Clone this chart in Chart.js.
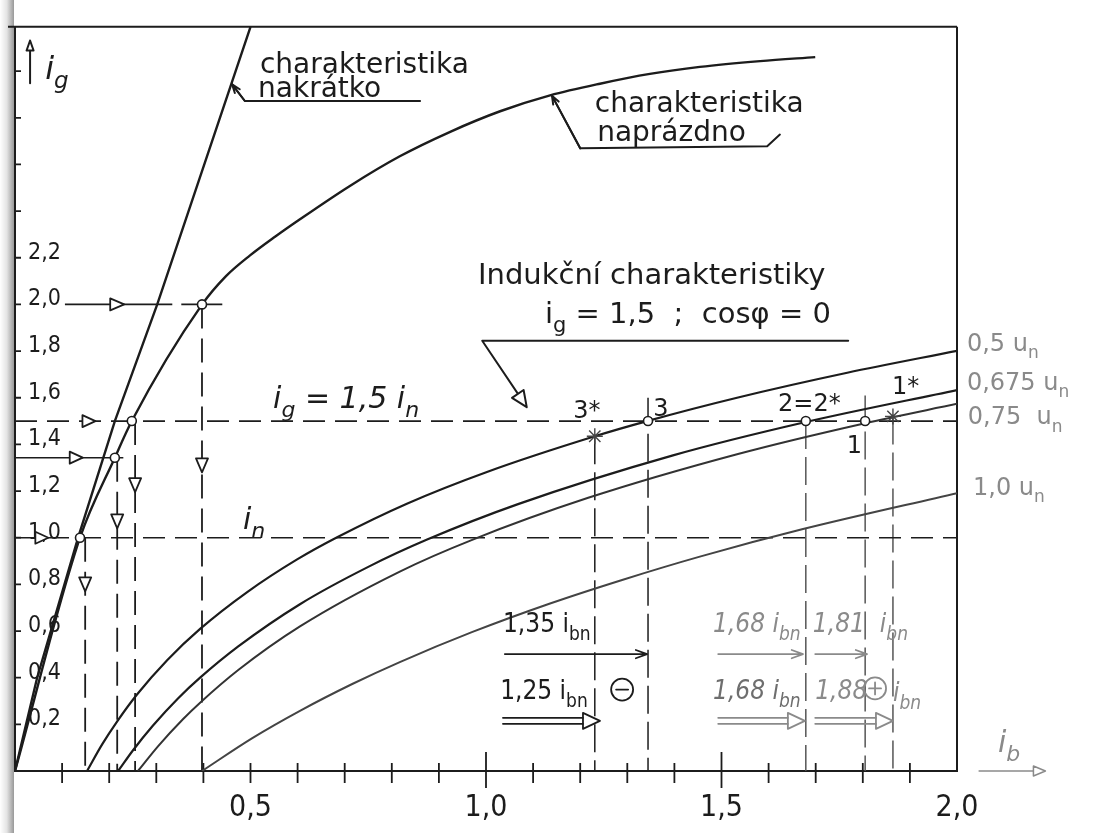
<!DOCTYPE html>
<html>
<head>
<meta charset="utf-8">
<title>Indukční charakteristiky</title>
<script src="https://cdn.jsdelivr.net/npm/chart.js@4.4.1/dist/chart.umd.min.js"></script>
<style>
  html, body { margin: 0; padding: 0; background: #fff; }
  canvas { display: block; }
</style>
</head>
<body>
<canvas id="chart" width="1094" height="833"></canvas>
<script>
const ink = '#1c1c1c';
const pencil = '#8a8a8a';
const FONT = '"DejaVu Sans", sans-serif';
const NARROW = '"DejaVu Sans Condensed", "DejaVu Sans", sans-serif';

// axes (ib horizontal, ig vertical)
const ibTicks = [0.5, 1.0, 1.5, 2.0];
const ibTickLabels = ['0,5', '1,0', '1,5', '2,0'];
const igTicks = [0.2, 0.4, 0.6, 0.8, 1.0, 1.2, 1.4, 1.6, 1.8, 2.0, 2.2];
const igTickLabels = ['0,2', '0,4', '0,6', '0,8', '1,0', '1,2', '1,4', '1,6', '1,8', '2,0', '2,2'];

// charakteristika nakrátko
const shortIb = [0, 0.047, 0.134, 0.212, 0.302, 0.500];
const shortIg = [0, 0.4, 1.0, 1.5, 2.0, 3.19];

// charakteristika naprázdno
const noLoadIb = [0, 0.138, 0.212, 0.248, 0.397, 0.448, 0.499, 0.552, 0.605, 0.711, 0.817, 0.924, 1.030, 1.136, 1.242, 1.348, 1.454, 1.582, 1.699];
const noLoadIg = [0, 1.0, 1.343, 1.5, 1.999, 2.121, 2.210, 2.290, 2.365, 2.508, 2.635, 2.740, 2.828, 2.896, 2.946, 2.988, 3.018, 3.043, 3.060];

// induction characteristics, ig = 1,5 ; cos phi = 0
const u050Ib = [0.153, 0.185, 0.217, 0.259, 0.323, 0.393, 0.493, 0.599, 0.684, 0.832, 1.002, 1.231, 1.344, 1.533, 1.767, 2.0];
const u050Ig = [0, 0.114, 0.213, 0.328, 0.475, 0.609, 0.767, 0.907, 1.002, 1.146, 1.282, 1.435, 1.501, 1.600, 1.707, 1.801];
const u0675Ib = [0.219, 0.251, 0.293, 0.346, 0.393, 0.474, 0.605, 0.750, 0.875, 1.068, 1.397, 1.679, 2.0];
const u0675Ig = [0, 0.090, 0.195, 0.311, 0.400, 0.534, 0.715, 0.875, 0.992, 1.144, 1.353, 1.496, 1.633];
const u075Ib = [0.261, 0.304, 0.357, 0.393, 0.474, 0.605, 0.817, 0.972, 1.217, 1.535, 1.805, 2.0];
const u075Ig = [0, 0.107, 0.223, 0.293, 0.433, 0.620, 0.855, 0.992, 1.171, 1.359, 1.491, 1.574];
const u100Ib = [0.397, 0.503, 0.605, 0.716, 0.817, 0.970, 1.136, 1.289, 1.454, 1.671, 2.0];
const u100Ig = [0, 0.140, 0.258, 0.373, 0.467, 0.595, 0.718, 0.819, 0.919, 1.036, 1.191];

// construction: points on the no-load curve and their drops to the ib axis
const knotIb = [0.138, 0.212, 0.248, 0.397];
const knotIg = [1.0, 1.343, 1.5, 2.0];
const dropIb = [0.149, 0.217, 0.255, 0.397];

// working points on ig = 1,5 and the read-out verticals
const pointIb = [1.344, 1.679, 1.805];
const pointIg = [1.5, 1.5, 1.5];
const pointNames = ['3', '2=2*', '1'];
const starIb = [1.231, 1.864];
const starIg = [1.435, 1.52];
const starNames = ['3*', '1*'];
const readIb = [1.231, 1.344, 1.679, 1.805, 1.864];
const readTopIg = [1.435, 1.6, 1.5, 1.61, 1.52];

function pts(ib, ig) { return ib.map((v, i) => ({ x: v, y: ig[i] })); }

function line(data, color, width, dash, smooth) {
  return {
    data: data, showLine: true, fill: false,
    borderColor: color, borderWidth: width, borderDash: dash || [],
    pointRadius: 0, pointHoverRadius: 0, tension: 0,
    cubicInterpolationMode: smooth ? 'monotone' : 'default'
  };
}

const datasets = [
  line(pts(noLoadIb, noLoadIg), ink, 2.4, null, true),
  line(pts(shortIb, shortIg), ink, 2.4),
  line(pts(u050Ib, u050Ig), ink, 2.2, null, true),
  line(pts(u0675Ib, u0675Ig), ink, 2.2, null, true),
  line(pts(u075Ib, u075Ig), '#333', 2.0, null, true),
  line(pts(u100Ib, u100Ig), '#444', 2.0, null, true),
  // ig = 1,5 in and in
  line([{ x: 0, y: 1.5 }, { x: 2.0, y: 1.5 }], ink, 1.8, [22, 10]),
  line([{ x: 0, y: 1.0 }, { x: 2.0, y: 1.0 }], ink, 1.6, [22, 10]),
  // ig = 2,0 and the 1,34 level
  line([{ x: 0.106, y: 2.0 }, { x: 0.30, y: 2.0 }], ink, 1.8),
  line([{ x: 0.30, y: 2.0 }, { x: 0.456, y: 2.0 }], ink, 1.8, [16, 9]),
  line([{ x: 0, y: 1.343 }, { x: 0.23, y: 1.343 }], ink, 1.4)
];

dropIb.forEach((v, i) => {
  datasets.push(line([{ x: v, y: knotIg[i] }, { x: v, y: 0 }], ink, 1.8, [24, 10]));
});
readIb.forEach((v, i) => {
  datasets.push(line([{ x: v, y: readTopIg[i] }, { x: v, y: 0 }], i < 2 ? ink : '#555', 1.5, [28, 8]));
});

datasets.push({
  data: pts(knotIb, knotIg).concat(pts(pointIb, pointIg)), showLine: false, order: -1,
  pointStyle: 'circle', pointRadius: 4.5, pointBorderWidth: 1.6,
  pointBackgroundColor: '#fff', pointBorderColor: ink
});
datasets.push({
  data: pts(starIb, starIg), showLine: false, order: -1,
  pointStyle: 'star', pointRadius: 8, pointBorderWidth: 1.4, pointBorderColor: '#444'
});

function rich(ctx, text, px, py, size, color, italic, family) {
  const parts = text.split(/(_\{[^}]*\})/).filter(Boolean);
  let cx = px;
  ctx.fillStyle = color;
  ctx.textAlign = 'left';
  ctx.textBaseline = 'alphabetic';
  parts.forEach(p => {
    const sub = p.startsWith('_{');
    const t = sub ? p.slice(2, -1) : p;
    const sz = sub ? Math.round(size * 0.72) : size;
    ctx.font = (italic ? 'italic ' : '') + sz + 'px ' + (family || FONT);
    ctx.fillText(t, cx, py + (sub ? size * 0.3 : 0));
    cx += ctx.measureText(t).width;
  });
}

function tri(ctx, px, py, dir, len, half) {
  ctx.beginPath();
  if (dir === 'r') {
    ctx.moveTo(px + len / 2, py); ctx.lineTo(px - len / 2, py - half); ctx.lineTo(px - len / 2, py + half);
  } else if (dir === 'd') {
    ctx.moveTo(px, py + len / 2); ctx.lineTo(px - half, py - len / 2); ctx.lineTo(px + half, py - len / 2);
  } else if (dir === 'u') {
    ctx.moveTo(px, py - len / 2); ctx.lineTo(px - half, py + len / 2); ctx.lineTo(px + half, py + len / 2);
  }
  ctx.closePath();
  ctx.fillStyle = '#fff';
  ctx.fill();
  ctx.stroke();
}

function arrow(ctx, x0, y0, x1, y1, head) {
  const ang = Math.atan2(y1 - y0, x1 - x0);
  ctx.beginPath();
  ctx.moveTo(x0, y0); ctx.lineTo(x1, y1);
  ctx.moveTo(x1 - head * Math.cos(ang - 0.35), y1 - head * Math.sin(ang - 0.35));
  ctx.lineTo(x1, y1);
  ctx.lineTo(x1 - head * Math.cos(ang + 0.35), y1 - head * Math.sin(ang + 0.35));
  ctx.stroke();
}

function hollowArrow(ctx, x0, x1, py) {
  const head = 17;
  ctx.beginPath();
  ctx.moveTo(x0, py - 3); ctx.lineTo(x1 - head, py - 3);
  ctx.moveTo(x0, py + 3); ctx.lineTo(x1 - head, py + 3);
  ctx.stroke();
  ctx.beginPath();
  ctx.moveTo(x1 - head, py - 8); ctx.lineTo(x1, py); ctx.lineTo(x1 - head, py + 8);
  ctx.closePath();
  ctx.stroke();
}

const sketch = {
  id: 'sketch',
  beforeDatasetsDraw(chart) {
    const { ctx, chartArea: a, scales: { x, y } } = chart;
    ctx.save();
    // scan shadow along the left edge
    const g = ctx.createLinearGradient(0, 0, a.left, 0);
    g.addColorStop(0, '#ffffff');
    g.addColorStop(0.45, '#e4e4e4');
    g.addColorStop(1, '#8e8e8e');
    ctx.fillStyle = g;
    ctx.fillRect(0, 0, a.left - 1, chart.height);

    ctx.strokeStyle = ink;
    ctx.lineWidth = 2;
    ctx.beginPath();
    ctx.moveTo(a.left - 7, a.top); ctx.lineTo(a.right, a.top);
    ctx.moveTo(a.right, a.top); ctx.lineTo(a.right, a.bottom);
    ctx.stroke();

    // tick marks
    ctx.lineWidth = 1.8;
    ctx.beginPath();
    for (let i = 1; i < 20; i++) {
      const px = x.getPixelForValue(i / 10);
      const long = i === 10 || i === 15;
      ctx.moveTo(px, a.bottom - (long ? 19 : 8));
      ctx.lineTo(px, a.bottom + (long ? 17 : 12));
    }
    for (let i = 1; i <= 15; i++) {
      const py = y.getPixelForValue(i * 0.2);
      ctx.moveTo(a.left, py);
      ctx.lineTo(a.left + 6, py);
    }
    ctx.stroke();
    ctx.restore();
  },
  afterDatasetsDraw(chart) {
    const { ctx, scales: { x, y } } = chart;
    const X = v => x.getPixelForValue(v);
    const Y = v => y.getPixelForValue(v);
    ctx.save();
    ctx.lineJoin = 'round';
    ctx.lineCap = 'round';

    // arrowheads on the construction lines
    ctx.strokeStyle = ink;
    ctx.lineWidth = 1.8;
    tri(ctx, X(0.057), Y(1.0), 'r', 13, 6);
    tri(ctx, X(0.130), Y(1.343), 'r', 13, 6);
    tri(ctx, X(0.157), Y(1.5), 'r', 13, 6);
    tri(ctx, X(0.217), Y(2.0), 'r', 14, 6);
    tri(ctx, X(dropIb[0]), Y(0.80), 'd', 14, 6);
    tri(ctx, X(dropIb[1]), Y(1.07), 'd', 14, 6);
    tri(ctx, X(dropIb[2]), Y(1.225), 'd', 14, 6);
    tri(ctx, X(dropIb[3]), Y(1.31), 'd', 14, 6);

    // axis arrow for ig
    ctx.lineWidth = 2;
    ctx.beginPath();
    ctx.moveTo(X(0.032), Y(2.948)); ctx.lineTo(X(0.032), Y(3.10));
    ctx.stroke();
    tri(ctx, X(0.032), Y(3.11), 'u', 10, 3.5);
    rich(ctx, 'i_{g}', X(0.064), Y(2.968), 32, ink, true);

    // axis arrow for ib
    ctx.strokeStyle = pencil;
    ctx.lineWidth = 1.5;
    ctx.beginPath();
    ctx.moveTo(X(2.047), Y(0)); ctx.lineTo(X(2.165), Y(0));
    ctx.stroke();
    tri(ctx, X(2.175), Y(0), 'r', 12, 5);
    rich(ctx, 'i_{b}', X(2.087), Y(0.08), 30, pencil, true);

    // leaders
    ctx.strokeStyle = ink;
    ctx.lineWidth = 2;
    ctx.beginPath();
    ctx.moveTo(X(0.860), Y(2.872)); ctx.lineTo(X(0.488), Y(2.872)); ctx.lineTo(X(0.461), Y(2.943));
    ctx.stroke();
    arrow(ctx, X(0.488), Y(2.872), X(0.461), Y(2.943), 9);
    ctx.beginPath();
    ctx.moveTo(X(1.624), Y(2.728)); ctx.lineTo(X(1.597), Y(2.678)); ctx.lineTo(X(1.200), Y(2.669)); ctx.lineTo(X(1.140), Y(2.895));
    ctx.stroke();
    arrow(ctx, X(1.200), Y(2.669), X(1.140), Y(2.895), 9);
    ctx.beginPath();
    ctx.moveTo(X(1.769), Y(1.844)); ctx.lineTo(X(0.992), Y(1.844)); ctx.lineTo(X(1.070), Y(1.61));
    ctx.stroke();
    const ang = Math.atan2(Y(1.61) - Y(1.844), X(1.070) - X(0.992));
    ctx.save();
    ctx.translate(X(1.077), Y(1.588));
    ctx.rotate(ang);
    ctx.beginPath();
    ctx.moveTo(8, 0); ctx.lineTo(-8, -7); ctx.lineTo(-8, 7); ctx.closePath();
    ctx.fillStyle = '#fff'; ctx.fill(); ctx.stroke();
    ctx.restore();

    // texts
    rich(ctx, 'charakteristika', X(0.520), Y(2.994), 28, ink);
    rich(ctx, 'nakrátko', X(0.516), Y(2.888), 28, ink);
    rich(ctx, 'charakteristika', X(1.231), Y(2.825), 28, ink);
    rich(ctx, 'naprázdno', X(1.236), Y(2.699), 28, ink);
    rich(ctx, 'Indukční charakteristiky', X(0.983), Y(2.088), 29, ink);
    rich(ctx, 'i_{g} = 1,5  ;  cosφ = 0', X(1.125), Y(1.920), 29, ink);
    rich(ctx, 'i_{g} = 1,5 i_{n}', X(0.548), Y(1.554), 30, ink, true);
    rich(ctx, 'i_{n}', X(0.484), Y(1.036), 30, ink, true);

    pointNames.forEach((t, i) => {
      const off = [[0.011, 0.02], [-0.059, 0.041], [-0.039, -0.136]][i];
      rich(ctx, t, X(pointIb[i] + off[0]), Y(pointIg[i] + off[1]), 24, ink);
    });
    starNames.forEach((t, i) => {
      const off = [[-0.046, 0.077], [-0.002, 0.097]][i];
      rich(ctx, t, X(starIb[i] + off[0]), Y(starIg[i] + off[1]), 24, ink);
    });

    rich(ctx, '0,5 u_{n}', X(2.021), Y(1.802), 24, pencil);
    rich(ctx, '0,675 u_{n}', X(2.021), Y(1.634), 24, pencil);
    rich(ctx, '0,75  u_{n}', X(2.023), Y(1.486), 24, pencil);
    rich(ctx, '1,0 u_{n}', X(2.034), Y(1.183), 24, pencil);

    // read-out of the field current
    rich(ctx, '1,35 i_{bn}', X(1.036), Y(0.594), 26, ink, false, NARROW);
    rich(ctx, '1,25 i_{bn}', X(1.030), Y(0.307), 26, ink, false, NARROW);
    rich(ctx, '1,68 i_{bn}', X(1.482), Y(0.594), 26, pencil, true, NARROW);
    rich(ctx, '1,81  i_{bn}', X(1.694), Y(0.594), 26, pencil, true, NARROW);
    rich(ctx, '1,68 i_{bn}', X(1.482), Y(0.307), 26, '#6e6e6e', true, NARROW);
    rich(ctx, '1,88', X(1.699), Y(0.307), 26, pencil, true, NARROW);
    rich(ctx, 'i_{bn}', X(1.864), Y(0.299), 26, pencil, true, NARROW);

    ctx.lineWidth = 1.8;
    ctx.strokeStyle = ink;
    arrow(ctx, X(1.040), Y(0.501), X(1.342), Y(0.501), 12);
    hollowArrow(ctx, X(1.036), X(1.242), Y(0.215));
    ctx.beginPath();
    ctx.arc(X(1.289), Y(0.349), 11, 0, Math.PI * 2);
    ctx.moveTo(X(1.289) - 6, Y(0.349)); ctx.lineTo(X(1.289) + 6, Y(0.349));
    ctx.stroke();

    ctx.strokeStyle = pencil;
    arrow(ctx, X(1.493), Y(0.501), X(1.673), Y(0.501), 12);
    arrow(ctx, X(1.699), Y(0.501), X(1.809), Y(0.501), 12);
    hollowArrow(ctx, X(1.493), X(1.677), Y(0.215));
    hollowArrow(ctx, X(1.699), X(1.864), Y(0.215));
    ctx.beginPath();
    ctx.arc(X(1.826), Y(0.354), 11, 0, Math.PI * 2);
    ctx.moveTo(X(1.826) - 6, Y(0.354)); ctx.lineTo(X(1.826) + 6, Y(0.354));
    ctx.moveTo(X(1.826), Y(0.354) - 6); ctx.lineTo(X(1.826), Y(0.354) + 6);
    ctx.stroke();
    ctx.restore();
  }
};

new Chart(document.getElementById('chart'), {
  type: 'scatter',
  data: { datasets: datasets },
  options: {
    responsive: false,
    animation: false,
    events: [],
    layout: { padding: { left: 15, right: 137, top: 13, bottom: 0 } },
    plugins: { legend: { display: false }, tooltip: { enabled: false } },
    scales: {
      x: {
        type: 'linear', min: 0, max: 2.0,
        grid: { display: false, drawTicks: false },
        border: { display: true, color: ink, width: 2 },
        afterBuildTicks: s => { s.ticks = ibTicks.map(v => ({ value: v })); },
        afterFit: s => { s.height = 62; },
        ticks: {
          padding: 19, color: ink, maxRotation: 0,
          font: { family: NARROW, size: 30 },
          callback: v => ibTickLabels[ibTicks.indexOf(v)]
        }
      },
      y: {
        type: 'linear', min: 0, max: 3.19,
        grid: { display: false, drawTicks: false },
        border: { display: true, color: ink, width: 2 },
        afterBuildTicks: s => { s.ticks = igTicks.map(v => ({ value: v })); },
        afterFit: s => { s.width = 0; },
        ticks: {
          mirror: true, padding: 13, color: ink, labelOffset: -5,
          font: { family: NARROW, size: 23 },
          callback: v => igTickLabels[igTicks.indexOf(v)]
        }
      }
    }
  },
  plugins: [sketch]
});
</script>
</body>
</html>
